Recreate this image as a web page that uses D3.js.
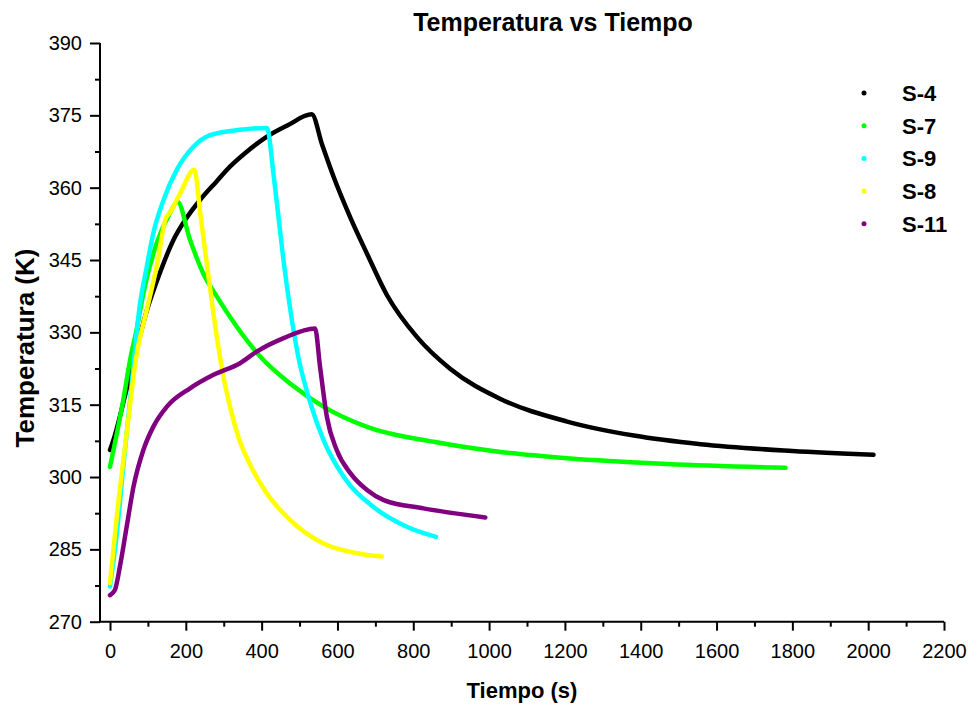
<!DOCTYPE html>
<html>
<head>
<meta charset="utf-8">
<script src="https://cdn.jsdelivr.net/npm/d3@7"></script>
<style>
  body { margin: 0; background: #fff; }
  text { font-family: "Liberation Sans", Arial, sans-serif; }
</style>
</head>
<body>
<svg class="chart"></svg>
<script>

// Series: time (s) and temperature (K).
var seriesNames = ["S-4", "S-7", "S-9", "S-8", "S-11"];
var seriesColors = ["#000000", "#00ff00", "#00ffff", "#ffff00", "#800080"];

var s4Time = [0, 13, 40, 70, 97, 130, 167, 200, 237, 280, 317, 360, 414, 470, 532, 560, 590, 634, 678, 730, 810, 898, 1030, 1206, 1382, 1558, 1800, 2014];
var s4Temp = [305.6, 308.7, 317, 326.5, 334.5, 342, 349.1, 353.5, 357.4, 361.2, 364.4, 367.4, 370.6, 373, 375.2, 368.8, 362.2, 353.8, 346.3, 337.8, 329, 322.4, 316.2, 311.5, 308.6, 306.8, 305.4, 304.6];

var s7Time = [0, 35, 53, 70, 88, 123, 158, 178, 211, 246, 282, 334, 396, 475, 563, 678, 854, 1030, 1206, 1470, 1782];
var s7Temp = [302.1, 316, 324.3, 330.5, 338.1, 348.5, 354.7, 357.1, 349.2, 342.2, 337.4, 331.2, 325, 319.4, 314.6, 310.4, 307.3, 305.2, 303.9, 302.7, 301.9];

var s9Time = [0, 18, 35, 53, 79, 97, 114, 141, 176, 220, 264, 343, 414, 418, 429.5, 440, 457.5, 475, 497, 528, 563, 616, 695, 783, 860];
var s9Temp = [277.3, 288.3, 302.1, 316, 335.8, 343.6, 350.5, 357.4, 363.7, 368.5, 370.9, 372, 372.4, 371.5, 364, 357, 345, 335, 324.8, 315.5, 307.7, 300.1, 293.8, 289.7, 287.6];

var s8Time = [0, 18, 44, 68, 99, 123, 148, 156, 185, 222, 240, 260, 280, 300, 320, 340, 370, 414, 475, 563, 651, 717];
var s8Temp = [278, 291.8, 309.1, 324.3, 335.3, 343.6, 353.8, 354.6, 358.8, 363.7, 353.5, 341.5, 330, 320.5, 313.5, 308, 302.5, 296.6, 291.1, 286.2, 284.2, 283.5];

var s11Time = [0, 13, 26, 44, 62, 88, 114, 150, 211, 273, 343, 387, 458, 541, 554, 572, 598, 634, 678, 722, 827, 990];
var s11Temp = [275.5, 276.6, 281.4, 289.7, 298, 305.6, 310.4, 314.6, 318.4, 321.2, 323.6, 326, 328.8, 330.8, 322.9, 312.5, 305.6, 300.8, 297.3, 295.2, 293.5, 291.6];

var seriesTime = [s4Time, s7Time, s9Time, s8Time, s11Time];
var seriesTemp = [s4Temp, s7Temp, s9Temp, s8Temp, s11Temp];

var yMajorTicks = [270, 285, 300, 315, 330, 345, 360, 375, 390];
var xMajorTicks = [0, 200, 400, 600, 800, 1000, 1200, 1400, 1600, 1800, 2000, 2200];

function drawChart() {

  var width = 971, height = 707;
  var plot = {left: 100, right: 944, top: 43, bottom: 621.7};

  var svg = d3.select(".chart")
      .attr("width", width)
      .attr("height", height);

  var x = d3.scaleLinear()
      .domain([-26.4, 2200])
      .range([plot.left, plot.right]);

  var y = d3.scaleLinear()
      .domain([270, 390])
      .range([plot.bottom, plot.top]);

  // Curves, first series at the back.
  var line = d3.line()
      .x(function(d) { return x(d[0]); })
      .y(function(d) { return y(d[1]); })
      .curve(d3.curveMonotoneX);

  seriesNames.forEach(function(name, i) {
    var points = seriesTime[i].map(function(t, j) { return [t, seriesTemp[i][j]]; });
    svg.append("path")
        .datum(points)
        .attr("fill", "none")
        .attr("stroke", seriesColors[i])
        .attr("stroke-width", 4.5)
        .attr("stroke-linejoin", "round")
        .attr("stroke-linecap", "round")
        .attr("d", line);
  });

  drawAxes(svg, x, y, plot);
  drawLegend(svg);

  // Title and axis titles.
  svg.append("text")
      .attr("x", 553)
      .attr("y", 31)
      .attr("text-anchor", "middle")
      .style("font-size", "25px")
      .style("font-weight", "bold")
      .text("Temperatura vs Tiempo");

  svg.append("text")
      .attr("x", 522)
      .attr("y", 698)
      .attr("text-anchor", "middle")
      .style("font-size", "22px")
      .style("font-weight", "bold")
      .text("Tiempo (s)");

  svg.append("text")
      .attr("transform", "translate(34,348) rotate(-90)")
      .attr("text-anchor", "middle")
      .style("font-size", "26px")
      .style("font-weight", "bold")
      .text("Temperatura (K)");
}

/*
* Axes with major and minor ticks.
*/
function drawAxes(svg, x, y, plot) {

  var yMinor = yMajorTicks.slice(0, -1).map(function(d) { return d + 7.5; });
  var xMinor = xMajorTicks.slice(0, -1).map(function(d) { return d + 100; });

  svg.append("g")
      .attr("class", "y axis")
      .attr("transform", "translate(" + plot.left + ",0)")
      .call(d3.axisLeft(y).tickValues(yMinor).tickSize(5).tickFormat(""));

  svg.append("g")
      .attr("class", "y axis")
      .attr("transform", "translate(" + plot.left + ",0)")
      .call(d3.axisLeft(y).tickValues(yMajorTicks).tickSize(10).tickPadding(8).tickFormat(d3.format("d")));

  svg.append("g")
      .attr("class", "x axis")
      .attr("transform", "translate(0," + plot.bottom + ")")
      .call(d3.axisBottom(x).tickValues(xMinor).tickSize(5).tickFormat(""));

  svg.append("g")
      .attr("class", "x axis")
      .attr("transform", "translate(0," + plot.bottom + ")")
      .call(d3.axisBottom(x).tickValues(xMajorTicks).tickSize(9).tickPadding(13).tickFormat(d3.format("d")));

  svg.selectAll(".axis path, .axis line")
      .attr("stroke", "#000")
      .attr("stroke-width", 2);

  svg.selectAll(".axis .domain").attr("d", null);

  // Axis lines drawn once so they meet at the corner.
  svg.append("path")
      .attr("fill", "none")
      .attr("stroke", "#000")
      .attr("stroke-width", 2)
      .attr("d", "M" + plot.left + "," + y(390) + "V" + plot.bottom + "H" + x(2200));

  svg.selectAll(".axis text")
      .attr("fill", "#000")
      .style("font-size", "20px")
      .style("font-family", "'Liberation Sans', Arial, sans-serif");
}

/*
* Legend with a small dot per series.
*/
function drawLegend(svg) {

  var legend = svg.append("g")
      .attr("transform", "translate(864,93)");

  var item = legend.selectAll("g")
      .data(seriesNames)
      .enter().append("g")
      .attr("transform", function(d, i) { return "translate(0," + i * 32.7 + ")"; });

  item.append("circle")
      .attr("r", 2.5)
      .attr("fill", function(d, i) { return seriesColors[i]; });

  item.append("text")
      .attr("x", 38)
      .attr("dy", "0.36em")
      .style("font-size", "22px")
      .style("font-weight", "bold")
      .text(function(d) { return d; });
}

drawChart();
</script>
</body>
</html>
